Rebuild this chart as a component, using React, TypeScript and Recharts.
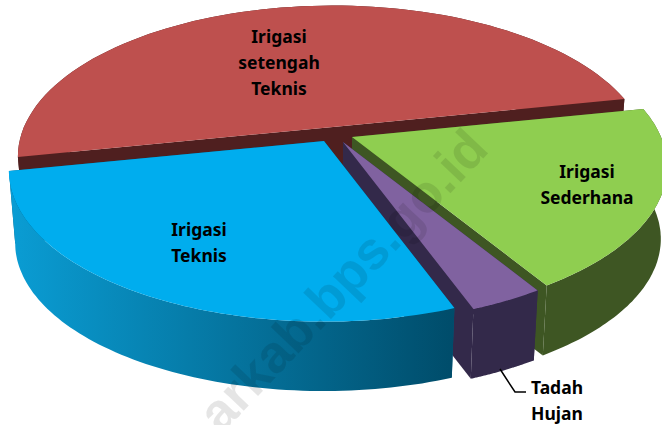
import { PieChart, Pie } from 'recharts'

const CATEGORIES = ['Irigasi setengah Teknis', 'Irigasi Sederhana', 'Tadah Hujan', 'Irigasi Teknis']
const VALUES = [50, 19.4, 3.2, 27.4]

const TOP_COLORS = ['#be504e', '#8fce50', '#8062a0', '#00adee']
const CUT_COLORS = ['#4f1f1f', '#3e5623', '#33294a', '#005a7c']
const WALL_COLORS = [['#4f1f1f', '#4f1f1f'], ['#3e5623', '#3e5623'], ['#33294a', '#33294a'], ['#0a9dd4', '#004c6a']]

// how far each slice was pulled out of the pie, in px
const EXPLODE_X = [0, 19, 10, -9]
const EXPLODE_Y = [0, 10, 15, 14]

const LABELS = [['Irigasi', 'setengah', 'Teknis'], ['Irigasi', 'Sederhana'], ['Tadah', 'Hujan'], ['Irigasi', 'Teknis']]
const LABEL_X = [279, 587, 557, 199]
const LABEL_Y = [36, 171, 387, 229]

const TILT = 0.47
const PERSPECTIVE = 0.196
const DEPTH = 73
const LOWER_SCALE = 0.98

const data = CATEGORIES.map((name, i) => ({ name, value: VALUES[i] }))

type P = [number, number]

function project(cx: number, cy: number, r: number, deg: number, lower: boolean): P {
  const a = (deg * Math.PI) / 180
  const w = 1 + PERSPECTIVE * Math.sin(a)
  const lx = (r * Math.cos(a)) / w
  const ly = (-r * TILT * Math.sin(a)) / w
  if (!lower) return [cx + lx, cy + ly]
  return [cx + lx * LOWER_SCALE, cy + ly * LOWER_SCALE + DEPTH]
}

const toPath = (pts: P[]) => 'M' + pts.map((p) => p[0].toFixed(1) + ' ' + p[1].toFixed(1)).join('L') + 'Z'

function Slice3D(props: any) {
  const { cx, cy, outerRadius, startAngle, endAngle } = props
  const i = CATEGORIES.indexOf(props.name ?? props.payload?.name)
  const x = cx + EXPLODE_X[i]
  const y = cy + EXPLODE_Y[i]
  const steps = 80
  const angles: number[] = []
  for (let k = 0; k <= steps; k++) angles.push(startAngle + ((endAngle - startAngle) * k) / steps)
  const upper = angles.map((a) => project(x, y, outerRadius, a, false))
  const lower = angles.map((a) => project(x, y, outerRadius, a, true))
  const apex: P = [x, y]
  const apexLow: P = [x, y + DEPTH]
  const gradId = 'wall-' + i
  const xs = upper.map((p) => p[0])
  return (
    <g>
      <defs>
        <linearGradient id={gradId} gradientUnits="userSpaceOnUse" x1={Math.min(...xs)} x2={Math.max(...xs)} y1={0} y2={0}>
          <stop offset="0%" stopColor={WALL_COLORS[i][0]} />
          <stop offset="100%" stopColor={WALL_COLORS[i][1]} />
        </linearGradient>
      </defs>
      <path d={toPath([apex, upper[0], lower[0], apexLow])} fill={CUT_COLORS[i]} />
      <path d={toPath([apex, upper[steps], lower[steps], apexLow])} fill={CUT_COLORS[i]} />
      <path d={toPath([...upper, ...[...lower].reverse()])} fill={`url(#${gradId})`} />
      <path d={toPath([apex, ...upper])} fill={TOP_COLORS[i]} />
    </g>
  )
}

function SliceLabel(props: any) {
  const i = CATEGORIES.indexOf(props.name ?? props.payload?.name)
  return (
    <g>
      {i === 2 && <polyline points="500,369 515,392 526,392" fill="none" stroke="#000" strokeWidth={1.5} />}
      {LABELS[i].map((line, k) => (
        <text
          key={line}
          x={LABEL_X[i]}
          y={LABEL_Y[i] + k * 26}
          textAnchor="middle"
          dominantBaseline="central"
          fontFamily="'Noto Sans', sans-serif"
          fontWeight={700}
          fontSize={17.5}
          fill="#000"
        >
          {line}
        </text>
      ))}
      {/* watermark goes with the last slice so it sits over the whole pie */}
      {i === 3 && (
        <text
          x={0}
          y={0}
          transform="translate(221,435) rotate(-46.5)"
          fontFamily="'Liberation Sans', sans-serif"
          fontWeight={700}
          fontSize={53}
          fill="#000"
          fillOpacity={0.1}
        >
          arkab.bps.go.id
        </text>
      )}
    </g>
  )
}

export default function App() {
  return (
    <div style={{ position: 'absolute', left: 0, top: 0, width: 662, height: 425, overflow: 'hidden', background: '#fff' }}>
      <PieChart width={662} height={425} margin={{ top: 0, right: 0, bottom: 0, left: 0 }}>
        <Pie
          data={data}
          dataKey="value"
          nameKey="name"
          cx={333}
          cy={127}
          outerRadius={309}
          startAngle={191.5}
          endAngle={-168.5}
          stroke="none"
          shape={Slice3D}
          label={SliceLabel}
          labelLine={false}
          isAnimationActive={false}
        />
      </PieChart>
    </div>
  )
}
